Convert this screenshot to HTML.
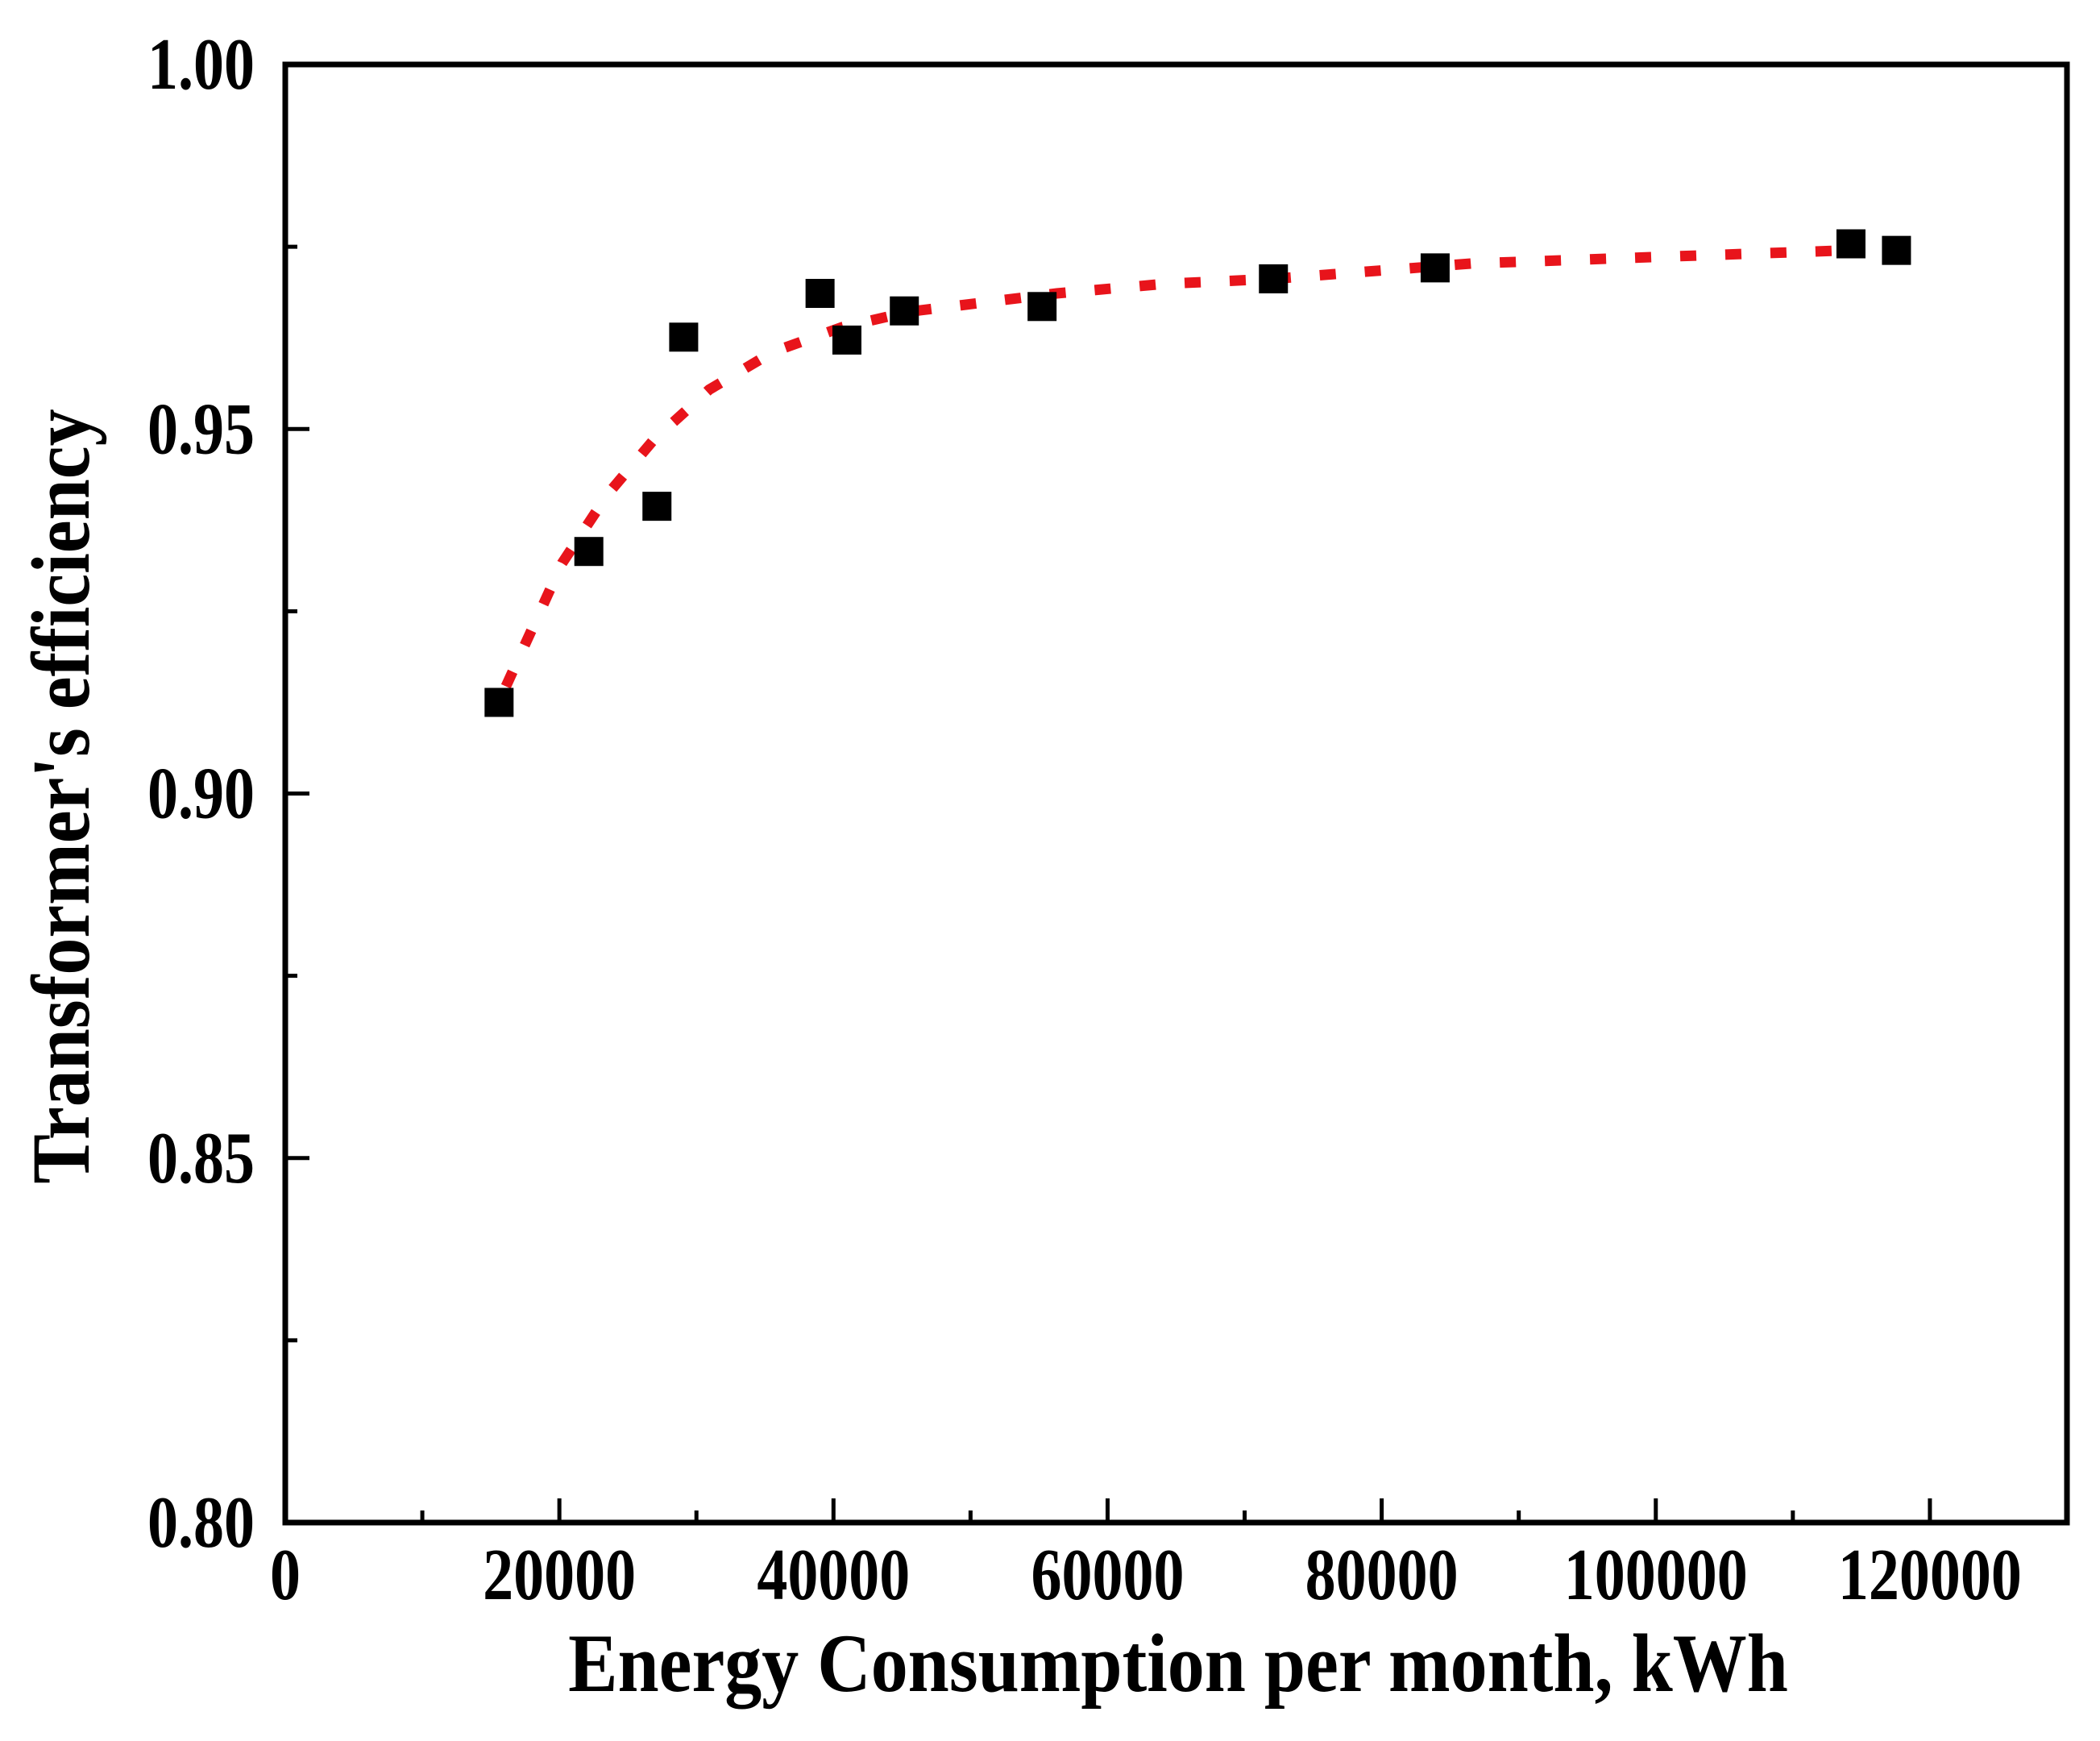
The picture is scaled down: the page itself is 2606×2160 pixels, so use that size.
<!DOCTYPE html>
<html><head><meta charset="utf-8"><style>
html,body{margin:0;padding:0;background:#fff;}
svg text{font-family:"Liberation Serif",serif;font-weight:bold;fill:#000;}
</style></head><body>
<svg id="chart" width="2606" height="2155" xmlns="http://www.w3.org/2000/svg">
<rect width="2606" height="2155" fill="#fff"/>
<g id="plot"></g>
<text transform="translate(1462,2098) scale(1,1.12)" font-size="92" text-anchor="middle">Energy Consumption per month, kWh</text>
<text transform="translate(110,988) rotate(-90) scale(1,1.12)" font-size="92" text-anchor="middle">Transformer's efficiency</text>
</svg>
<script>
const xData = [15600,22150,27120,29070,39020,40980,45170,55220,72100,83900,114240,117560];
const yData = [0.9125,0.9332,0.9394,0.9626,0.9686,0.9622,0.9662,0.9668,0.9706,0.9721,0.9754,0.9745];
const fitX = [16100,20200,23500,26830,30930,35610,40680,45560,56290,64100,72100,86540,103120,113850];
const fitY = [0.9147,0.9316,0.9410,0.9484,0.9554,0.9606,0.9640,0.9661,0.9686,0.9699,0.9706,0.9727,0.9738,0.9745];
const xTicks = [0,20000,40000,60000,80000,100000,120000];
const yTicks = [0.80,0.85,0.90,0.95,1.00];
const yTickLabels = ["0.80","0.85","0.90","0.95","1.00"];

const L=354,R=2565,T=80,B=1889;
const xMin=0,xMax=130000,yMin=0.8,yMax=1.0;
const sx=v=>L+(v-xMin)/(xMax-xMin)*(R-L);
const sy=v=>B-(v-yMin)/(yMax-yMin)*(B-T);
const NS="http://www.w3.org/2000/svg";
const g=document.getElementById('plot');
function mk(tag,attrs){const e=document.createElementNS(NS,tag);for(const k in attrs)e.setAttribute(k,attrs[k]);g.appendChild(e);return e;}

const fit=mk('polyline',{points:fitX.map((x,i)=>sx(x)+','+sy(fitY[i])).join(' '),fill:'none',stroke:'#e8141b','stroke-width':13,'stroke-dasharray':'20 36'});



const ms=36;
xData.forEach((x,i)=>{
  const r=mk('rect',{x:sx(x)-ms/2,y:sy(yData[i])-ms/2,width:ms,height:ms,fill:'#000'});
  
  
});

const fr=mk('rect',{x:L,y:T,width:R-L,height:B-T,fill:'none',stroke:'#000','stroke-width':7});



for(let v=10000;v<xMax;v+=10000){
  const major=v%20000===0;
  const t=mk('line',{x1:sx(v),x2:sx(v),y1:B,y2:B-(major?30:15),stroke:'#000','stroke-width':5});
  
  
}
xTicks.forEach(v=>{
  const t=mk('text',{transform:`translate(${sx(v)},1984) scale(1,1.2)`,'font-size':76,'text-anchor':'middle'});
  t.textContent=String(v);
  
  
});
for(let k=1;k<8;k++){
  const v=yMin+k*0.025;
  const major=k%2===0;
  const t=mk('line',{x1:L,x2:L+(major?30:15),y1:sy(v),y2:sy(v),stroke:'#000','stroke-width':5});
  
  
}
yTicks.forEach((v,i)=>{
  const t=mk('text',{transform:`translate(316,${sy(v)+30}) scale(1,1.2)`,'font-size':76,'text-anchor':'end'});
  t.textContent=yTickLabels[i];
  
  
});
</script>
</body></html>
